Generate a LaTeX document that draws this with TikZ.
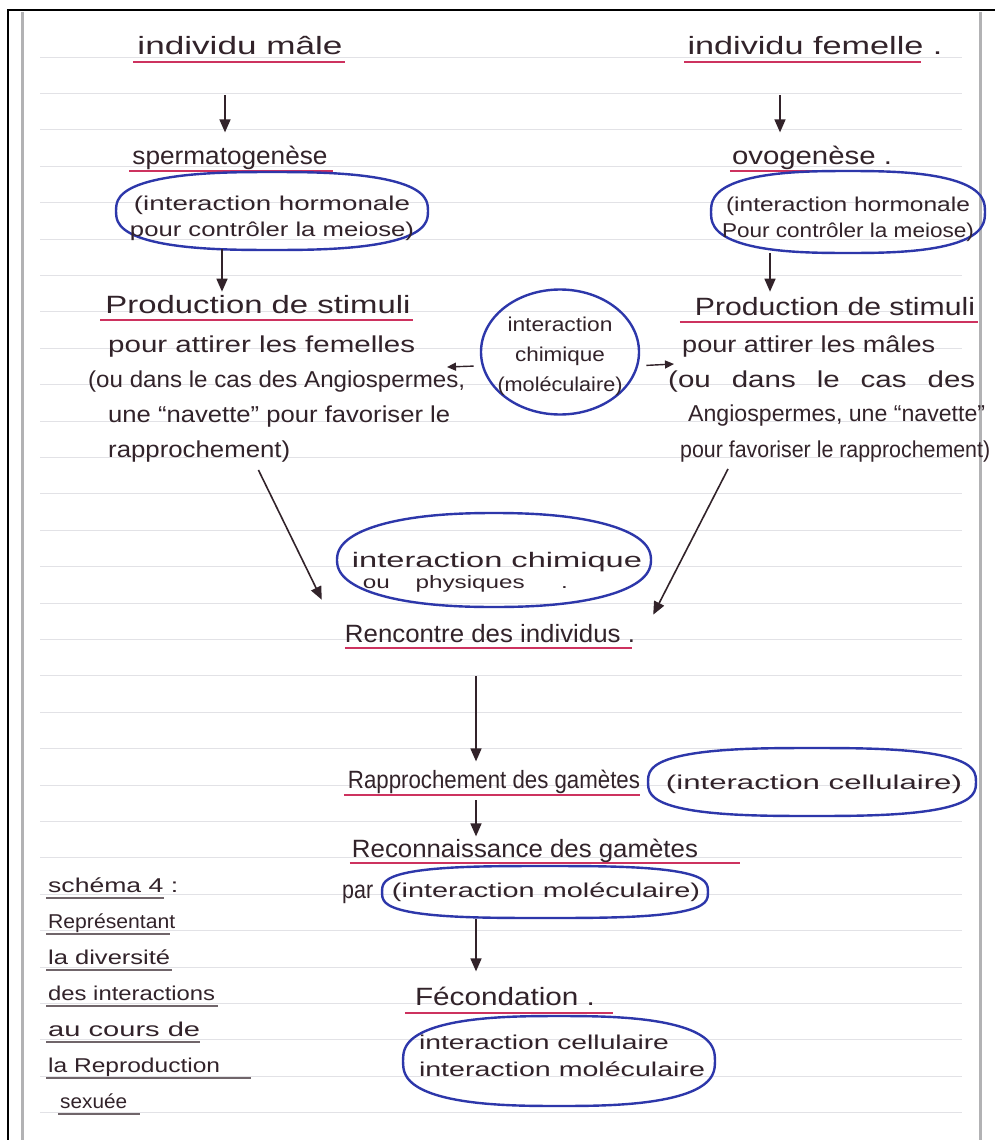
\documentclass[tikz,border=0pt]{standalone}
\usepackage{fontspec}
\setmainfont{Liberation Sans}
\usepackage{graphicx}
\usetikzlibrary{arrows.meta,shapes.geometric}
\definecolor{ink}{RGB}{50,35,42}
\definecolor{redul}{RGB}{205,50,95}
\definecolor{blueink}{RGB}{45,55,170}
\definecolor{paperline}{RGB}{226,226,230}
\definecolor{margin}{RGB}{178,178,180}
\newcommand\hw[2]{\resizebox{#1pt}{\height}{#2}}
\newcommand\ulit[3]{\draw[ulline] ([shift={(#2,7)}]#1.base west) -- ([shift={(#3,7)}]#1.base east);}
\newcommand\capul[2]{\draw[capline] ([shift={(-2,6)}]#1.base west) -- ++(#2,0);}
% squarish oval: centre x, centre y, half width, half height, exponent offset
\newcommand\superbub[5]{\draw[bubbleline] plot[smooth cycle, domain=0:355, samples=72, variable=\t]
  ({#1+#3*cos(\t)*(abs(cos(\t))+0.001)^(#5)}, {#2+#4*sin(\t)*(abs(sin(\t))+0.001)^(#5)});}
\tikzset{
  txt/.style={font=\fontsize{25}{28}\selectfont, text=ink, inner sep=0pt, anchor=base},
  ptxt/.style={font=\fontsize{23}{26}\selectfont, text=ink, inner sep=0pt, anchor=base west},
  captxt/.style={font=\fontsize{20}{22}\selectfont, text=ink, inner sep=0pt, anchor=base west},
  btxt/.style={font=\fontsize{20}{26}\selectfont, text=ink, inner sep=0pt, align=center},
  bubbleline/.style={draw=blueink, line width=2.4pt},
  bubblebox/.style={draw=blueink, line width=2.4pt, inner sep=0pt},
  arr/.style={draw=ink, line width=1.6pt, -{Triangle[length=13pt,width=11pt]}},
  sarr/.style={draw=ink, line width=1.4pt, -{Triangle[length=9pt,width=8pt]}},
  ulline/.style={draw=redul, line width=2.2pt},
  capline/.style={draw=ink!70, line width=1.3pt},
  paperrule/.style={draw=paperline, line width=0.9pt}
}
\begin{document}
\begin{tikzpicture}[x=1pt,y=-1pt]
\useasboundingbox (0,0) rectangle (995,1140);
\fill[white] (0,0) rectangle (995,1140);
% paper
\foreach \k in {0,...,29} \draw[paperrule] (40,{57+36.4*\k}) -- (962,{57+36.4*\k});
\draw[margin, line width=3pt] (22,12) -- (22,1140);
\draw[margin, line width=3pt] (980,12) -- (980,1140);
\draw[black, line width=2pt] (8,1140) -- (8,10) -- (995,10);
% columns and bubble bottoms
\coordinate (colL) at (225,0);
\coordinate (colL2) at (222,0);
\coordinate (colR) at (780,0);
\coordinate (colR2) at (770,0);
\coordinate (colM) at (476,0);
\coordinate (hormLbot) at (272,249);
\coordinate (hormRbot) at (848,253);
\coordinate (ellMbot) at (545,918);
% top
\node[txt] (male) at (240,55) {\hw{205}{individu mâle}};
\node[txt] (female) at (815,55) {\hw{255}{individu femelle .}};
\ulit{male}{-4}{2}
\ulit{female}{-3}{-22}
\node[txt] (sperm) at (230,164) {\hw{195}{spermatogenèse}};
\node[txt] (ovo) at (812,164) {\hw{160}{ovogenèse .}};
\ulit{sperm}{-3}{5}
\ulit{ovo}{-2}{-12}
\superbub{272}{211}{156}{39}{-0.25}
\node[btxt] (hormL) at (272,218)
  {\hw{276}{(interaction hormonale}\\\hw{284}{pour contrôler la meiose)}};
\superbub{848}{212}{137}{41}{-0.25}
\node[btxt] (hormR) at (848,219)
  {\hw{244}{(interaction hormonale}\\\hw{252}{Pour contrôler la meiose)}};
\draw[arr, shorten <=40pt, shorten >=13pt] (male.south -| colL) -- (sperm.north -| colL);
\draw[arr, shorten <=40pt, shorten >=13pt] (female.south -| colR) -- (ovo.north -| colR);
% production
\node[txt] (prodL) at (258,313) {\hw{305}{Production de stimuli}};
\node[txt] (prodR) at (835,315) {\hw{280}{Production de stimuli}};
\ulit{prodL}{-5}{2}
\ulit{prodR}{-15}{3}
\draw[arr, shorten <=0pt, shorten >=3pt] (hormLbot -| colL2) -- (prodL.north -| colL2);
\draw[arr, shorten <=0pt, shorten >=5pt] (hormRbot -| colR2) -- (prodR.north -| colR2);
\node[ptxt] (pl1) at (108,352) {\hw{307}{pour attirer les femelles}};
\node[ptxt] (pl2) at (88,387) {\hw{377}{(ou dans le cas des Angiospermes,}};
\node[ptxt] (pl3) at (108,422) {\hw{342}{une “navette” pour favoriser le}};
\node[ptxt] (pl4) at (108,457) {\hw{182}{rapprochement)}};
\node[ptxt] (pr1) at (682,352) {\hw{253}{pour attirer les mâles}};
\node[ptxt] (pr2) at (668,387) {\hw{307}{(ou\hspace{10pt} dans\hspace{10pt} le\hspace{10pt} cas\hspace{10pt} des}};
\node[ptxt] (pr3) at (688,421) {\hw{297}{Angiospermes, une “navette”}};
\node[ptxt] (pr4) at (680,457) {\hw{310}{pour favoriser le rapprochement)}};
\node[bubblebox, ellipse, minimum width=158pt, minimum height=125pt] (circB) at (560,352) {};
\node[btxt, font=\fontsize{20}{30}\selectfont] (circ) at (560,356)
  {\hw{105}{interaction}\\\hw{90}{chimique}\\\hw{125}{(moléculaire)}};
\coordinate (tipL) at (447,367);
\coordinate (tipR) at (674,364);
\draw[sarr, shorten <=8pt] (circB.190) -- (tipL);
\draw[sarr, shorten <=8pt] (circB.350) -- (tipR);
% meeting
\superbub{494}{560}{157}{47}{-0.12}
\node[btxt, align=left, font=\fontsize{21}{21}\selectfont] (ellCP) at (497,572)
  {\hw{290}{interaction chimique}\\\hspace*{11pt}{\fontsize{18}{21}\selectfont\hw{205}{ou\hspace{14pt} physiques\hspace{22pt} .}}};
\node[txt] (renc) at (490,642) {\hw{290}{Rencontre des individus .}};
\draw[ulline] ([shift={(0,6)}]renc.base west) -- ([shift={(-3,6)}]renc.base east);
\draw[arr] ([shift={(-32,8)}]pl4.south east) -- ([shift={(-23,-24)}]renc.north west);
\draw[arr] ([shift={(48,7)}]pr4.south west) -- ([shift={(18,-9)}]renc.north east);
% gametes
\node[txt] (rapp) at (494,788) {\hw{292}{Rapprochement des gamètes}};
\ulit{rapp}{-4}{0}
\superbub{812}{782}{164}{34}{-0.3}
\node[btxt] (ellC) at (814,784) {\hw{296}{(interaction cellulaire)}};
\draw[arr, shorten <=34pt, shorten >=8pt] (renc.south -| colM) -- (rapp.north -| colM);
\node[txt] (reco) at (525,857) {\hw{346}{Reconnaissance des gamètes}};
\draw[ulline] ([shift={(-2,6)}]reco.base west) -- ([shift={(42,6)}]reco.base east);
\draw[arr, shorten <=7pt, shorten >=2pt] (rapp.south -| colM) -- (reco.north -| colM);
\node[txt, anchor=base west] (par) at (342,898) {\hw{31}{par}};
\superbub{545}{892}{163}{26}{-0.35}
\node[btxt] (ellM) at (546,892) {\hw{308}{(interaction moléculaire)}};
\node[txt] (fec) at (505,1005) {\hw{180}{Fécondation .}};
\draw[ulline] ([shift={(-10,8)}]fec.base west) -- ([shift={(18,8)}]fec.base east);
\draw[arr, shorten <=1pt, shorten >=15pt] (ellMbot -| colM) -- (fec.north -| colM);
\superbub{559}{1061}{156}{45}{-0.25}
\node[btxt, align=left, font=\fontsize{20}{27}\selectfont] (ellF) at (562,1056)
  {\hw{250}{interaction cellulaire}\\\hw{286}{interaction moléculaire}};
% caption
\node[captxt] (c1) at (48,892) {\hw{130}{schéma 4 :}};
\node[captxt] (c2) at (48,928) {\hw{127}{Représentant}};
\node[captxt] (c3) at (48,964) {\hw{122}{la diversité}};
\node[captxt] (c4) at (48,1000) {\hw{167}{des interactions}};
\node[captxt] (c5) at (48,1036) {\hw{152}{au cours de}};
\node[captxt] (c6) at (48,1072) {\hw{172}{la Reproduction}};
\node[captxt] (c7) at (60,1108) {\hw{67}{sexuée}};
\capul{c1}{118}
\capul{c2}{124}
\capul{c3}{126}
\capul{c4}{172}
\capul{c5}{154}
\capul{c6}{205}
\capul{c7}{82}
\end{tikzpicture}
\end{document}
